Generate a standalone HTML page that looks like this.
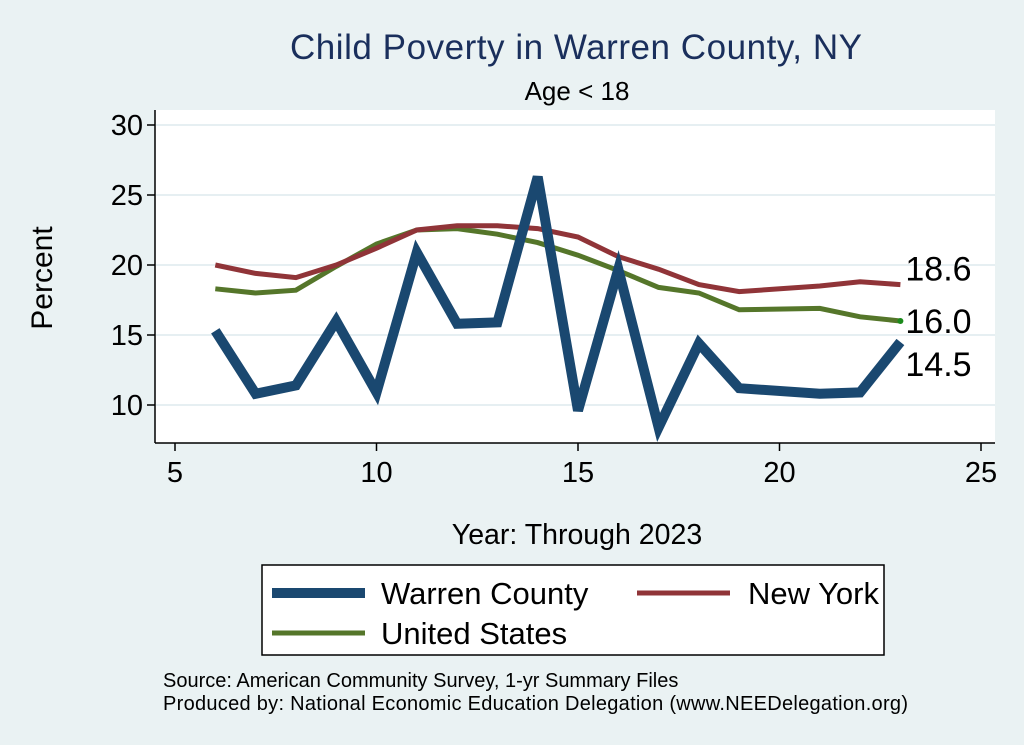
<!DOCTYPE html>
<html><head><meta charset="utf-8"><style>
html,body{margin:0;padding:0;background:#eaf2f3;}
svg{display:block;font-family:"Liberation Sans",Arial,sans-serif;}
</style></head><body>
<svg width="1024" height="745" viewBox="0 0 1024 745">
<rect x="0" y="0" width="1024" height="745" fill="#eaf2f3"/>
<text x="576" y="59" font-size="35" fill="#1a2f5c" text-anchor="middle" textLength="572">Child Poverty in Warren County, NY</text>
<text x="577" y="100" font-size="26" fill="#000" text-anchor="middle">Age &lt; 18</text>
<rect x="155" y="110" width="840" height="333" fill="#fff"/>
<g id="grid"></g>
<line x1="155" y1="110" x2="155" y2="443" stroke="#000" stroke-width="1.5"/>
<line x1="155" y1="443" x2="995" y2="443" stroke="#000" stroke-width="1.5"/>
<g id="axes"></g>
<g id="series"></g>
<g id="labels"></g>
<text x="52" y="278" font-size="30" text-anchor="middle" transform="rotate(-90 52 278)">Percent</text>
<text x="577" y="544" font-size="28.5" text-anchor="middle">Year: Through 2023</text>
<g>
<rect x="262" y="565" width="622" height="90" fill="#fff" stroke="#000" stroke-width="1.5"/>
<g><line x1="272" y1="593" x2="365" y2="593" stroke="#1a4870" stroke-width="10"/><text x="381" y="604" font-size="31">Warren County</text></g>
<g><line x1="637" y1="593" x2="730" y2="593" stroke="#903438" stroke-width="5"/><text x="748" y="604" font-size="31">New York</text></g>
<g><line x1="272" y1="633" x2="365" y2="633" stroke="#55762a" stroke-width="5"/><text x="381" y="644" font-size="31">United States</text></g>
</g>
<text x="163" y="687" font-size="20">Source: American Community Survey, 1-yr Summary Files</text>
<text x="163" y="710" font-size="20" textLength="745">Produced by: National Economic Education Delegation (www.NEEDelegation.org)</text>
</svg>
<script>
const years=[6,7,8,9,10,11,12,13,14,15,16,17,18,19,21,22,23];
const warren=[15.3,10.8,11.4,16.0,10.9,20.9,15.8,15.9,26.3,9.6,19.7,8.4,14.4,11.2,10.8,10.9,14.5];
const newYork=[20.0,19.4,19.1,20.0,21.2,22.5,22.8,22.8,22.6,22.0,20.6,19.7,18.6,18.1,18.5,18.8,18.6];
const unitedStates=[18.3,18.0,18.2,19.9,21.5,22.5,22.6,22.2,21.6,20.7,19.6,18.4,18.0,16.8,16.9,16.3,16.0];
const xTicks=[5,10,15,20,25];
const yTicks=[10,15,20,25,30];
const NS='http://www.w3.org/2000/svg';
function xs(v){return 175+(v-5)*(981-175)/20;}
function ys(v){return 405-(v-10)*14;}
function mk(t,a,p){const e=document.createElementNS(NS,t);for(const k in a)e.setAttribute(k,a[k]);p.appendChild(e);return e;}
const grid=document.getElementById('grid'),axes=document.getElementById('axes'),ser=document.getElementById('series'),lab=document.getElementById('labels');
yTicks.forEach(t=>{
 const g=mk('line',{x1:156,x2:995,y1:ys(t),y2:ys(t),stroke:'#e6eff2','stroke-width':2},grid);
 
 
 mk('line',{x1:147,x2:155,y1:ys(t),y2:ys(t),stroke:'#000','stroke-width':1.5},axes);
 const tx=mk('text',{x:143,y:ys(t)+10,'font-size':29,'text-anchor':'end'},axes);tx.textContent=t;
 
 
});
xTicks.forEach(t=>{
 mk('line',{x1:xs(t),x2:xs(t),y1:443,y2:451,stroke:'#000','stroke-width':1.5},axes);
 const tx=mk('text',{x:xs(t),y:482,'font-size':29,'text-anchor':'middle'},axes);tx.textContent=t;
 
 
});
function line(vals,color,w,name){
 const p=mk('polyline',{points:years.map((y,i)=>xs(y)+','+ys(vals[i])).join(' '),fill:'none',stroke:color,'stroke-width':w,'stroke-linejoin':'miter'},ser);
 
 
}
line(unitedStates,'#55762a',5,'united-states-line');
line(newYork,'#903438',5,'new-york-line');
line(warren,'#1a4870',10,'warren-county-line');
const last=years.length-1;
const lx=xs(years[last]);
const d=mk('circle',{cx:lx,cy:ys(unitedStates[last]),r:3,fill:'#1a8a1a'},ser);


[[newYork[last],-4],[unitedStates[last],12],[warren[last],34]].forEach((p,i)=>{
 const tx=mk('text',{x:lx+5,y:ys(p[0])+p[1],'font-size':34},lab);tx.textContent=p[0].toFixed(1);
 
 
});
</script>
</body></html>
